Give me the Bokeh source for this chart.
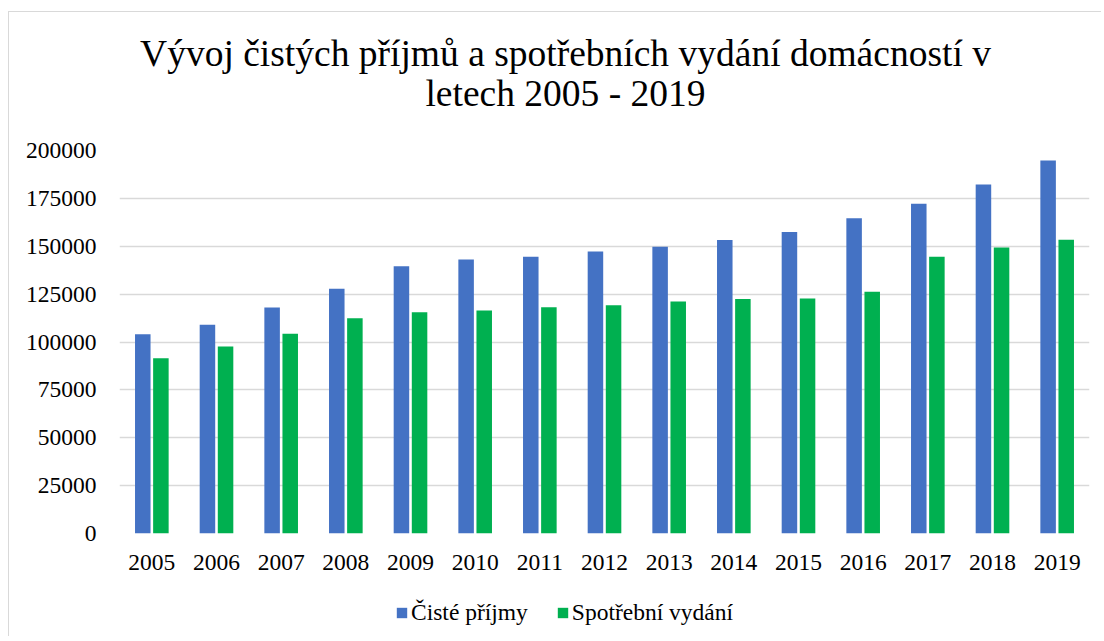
from bokeh.plotting import figure
from bokeh.models import (ColumnDataSource, FactorRange, Range1d, FixedTicker,
                          NumeralTickFormatter, Legend, LegendItem, Label)
from bokeh.layouts import column
from bokeh.transform import dodge
from bokeh.embed import file_html
from bokeh.resources import INLINE

years = [str(y) for y in range(2005, 2020)]
ciste_prijmy = [104000, 109000, 118000, 127800, 139600, 143100, 144500, 147300,
                149700, 153200, 157500, 164600, 172200, 182200, 194800]
spotrebni_vydani = [91500, 97700, 104300, 112400, 115600, 116500, 118200, 119200,
                    121100, 122400, 122700, 126200, 144500, 149400, 153400]
y_ticks = [0, 25000, 50000, 75000, 100000, 125000, 150000, 175000, 200000]
title_lines = ["Vývoj čistých příjmů a spotřebních vydání domácností v",
               "letech 2005 - 2019"]
series_names = ["Čisté příjmy", "Spotřební vydání"]

FONT = "Liberation Serif"
BLUE = "#4472C4"
GREEN = "#00B050"
W = 1092


def bare(height):
    f = figure(width=W, height=height, output_backend="svg", toolbar_location=None,
               x_range=Range1d(0, 1), y_range=Range1d(0, 1),
               x_axis_type=None, y_axis_type=None, min_border=0)
    f.grid.visible = False
    f.outline_line_color = None
    f.title = None
    return f


# ---- title block (frames of the column are aligned with the chart frame)
tf = bare(113)
for txt, yy in zip(title_lines, [72, 32]):
    tf.add_layout(Label(x=446, y=yy, x_units="screen", y_units="screen", text=txt,
                        text_align="center", text_baseline="alphabetic",
                        text_font=FONT, text_font_size="37.5px", text_color="black"))

# ---- main chart
src = ColumnDataSource(dict(years=years, a=ciste_prijmy, b=spotrebni_vydani))
p = figure(x_range=FactorRange(*years), y_range=Range1d(0, 200000),
           width=W, height=455, output_backend="svg", toolbar_location=None,
           min_border_left=110, min_border_right=12, min_border_top=25,
           min_border_bottom=47)
p.title = None
p.outline_line_color = None

p.vbar(x=dodge("years", -0.14, range=p.x_range), top="a", width=0.24,
       source=src, fill_color=BLUE, line_color=None)
p.vbar(x=dodge("years", 0.14, range=p.x_range), top="b", width=0.24,
       source=src, fill_color=GREEN, line_color=None)

p.x_range.range_padding = 0
p.yaxis.ticker = FixedTicker(ticks=y_ticks)
p.yaxis.formatter = NumeralTickFormatter(format="0")
for ax in (p.xaxis[0], p.yaxis[0]):
    ax.axis_line_color = None
    ax.major_tick_line_color = None
    ax.minor_tick_line_color = None
    ax.major_label_text_font = FONT
    ax.major_label_text_font_size = "23.5px"
    ax.major_label_text_color = "black"
p.yaxis.major_label_standoff = 17
p.xaxis.major_label_standoff = 15
p.xgrid.grid_line_color = None
p.ygrid.grid_line_color = "#d9d9d9"
p.ygrid.grid_line_width = 1.5

# ---- legend block (zero-height swatch renderers, only their legend glyphs show)
lf = bare(56)
k1 = lf.vbar(x=[0.5], top=[0], width=0.1, fill_color=BLUE, line_color=None)
k2 = lf.vbar(x=[0.5], top=[0], width=0.1, fill_color=GREEN, line_color=None)
legend = Legend(items=[LegendItem(label=series_names[0], renderers=[k1]),
                       LegendItem(label=series_names[1], renderers=[k2])],
                orientation="horizontal", location=(276, 10),
                glyph_width=13, glyph_height=13, label_standoff=3, spacing=28,
                padding=0, margin=0, border_line_color=None,
                background_fill_alpha=0, label_text_font=FONT,
                label_text_font_size="23.5px", label_text_color="black")
lf.add_layout(legend, "center")

page = column(tf, p, lf, spacing=0,
              styles={"margin-left": "8px", "margin-top": "11px",
                      "border-left": "1px solid #d9d9d9",
                      "border-top": "1px solid #d9d9d9"})

open("out.html", "w").write(file_html(page, INLINE))
